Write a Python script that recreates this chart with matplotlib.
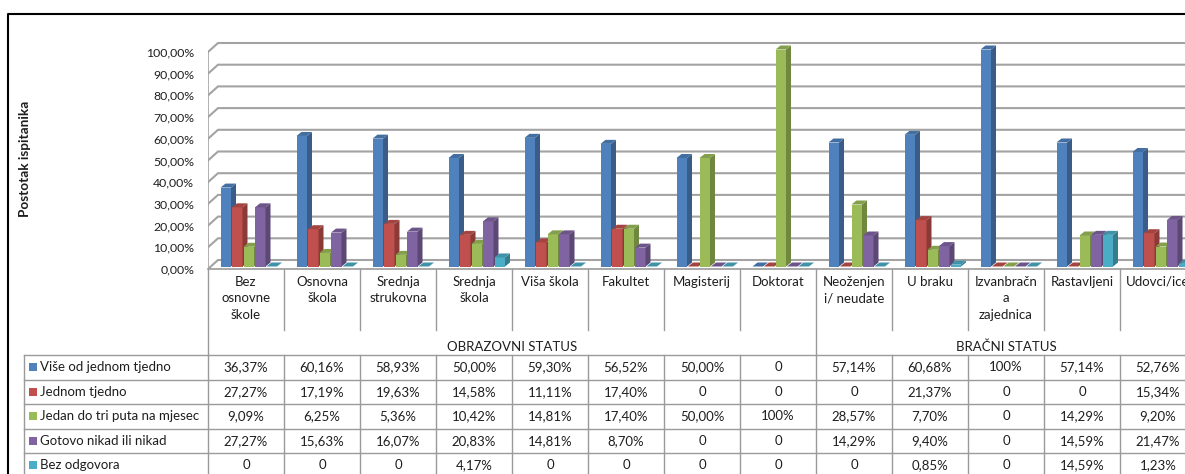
import numpy as np
import matplotlib
matplotlib.use("Agg")
import matplotlib.pyplot as plt
from matplotlib.patches import Polygon
from matplotlib.colors import to_rgb

plt.rcParams['font.family'] = ['Lato', 'DejaVu Sans']

# --- data ---
kategorije = ["Bez\nosnovne\nškole", "Osnovna\nškola", "Srednja\nstrukovna", "Srednja\nškola",
              "Viša škola", "Fakultet", "Magisterij", "Doktorat", "Neoženjen\ni/ neudate",
              "U braku", "Izvanbračn\na\nzajednica", "Rastavljeni", "Udovci/ice"]
grupe = ["OBRAZOVNI STATUS", "BRAČNI STATUS"]
grupa_broj = [8, 5]
serije = ["Više od jednom tjedno", "Jednom tjedno", "Jedan do tri puta na mjesec",
          "Gotovo nikad ili nikad", "Bez odgovora"]
vise_od_jednom = [36.37, 60.16, 58.93, 50.00, 59.30, 56.52, 50.00, 0, 57.14, 60.68, 100, 57.14, 52.76]
jednom_tjedno = [27.27, 17.19, 19.63, 14.58, 11.11, 17.40, 0, 0, 0, 21.37, 0, 0, 15.34]
jedan_do_tri = [9.09, 6.25, 5.36, 10.42, 14.81, 17.40, 50.00, 100, 28.57, 7.70, 0, 14.29, 9.20]
gotovo_nikad = [27.27, 15.63, 16.07, 20.83, 14.81, 8.70, 0, 0, 14.29, 9.40, 0, 14.59, 21.47]
bez_odgovora = [0, 0, 0, 4.17, 0, 0, 0, 0, 0, 0.85, 0, 14.59, 1.23]
podaci = [vise_od_jednom, jednom_tjedno, jedan_do_tri, gotovo_nikad, bez_odgovora]
boje = ['#4F81BD', '#C0504D', '#9BBB59', '#8064A2', '#4BACC6']


def fmt(v):
    if v == 0:
        return "0"
    if v == 100:
        return "100%"
    return ("%.2f%%" % v).replace('.', ',')


def shade(c, f):
    return tuple(np.array(to_rgb(c)) * f)


W, H = 1185, 474
fig = plt.figure(figsize=(W / 100, H / 100), dpi=100)
tekst = '#1e1e1e'

# overlay in pixel coords for frame + table
ov = fig.add_axes([0, 0, 1, 1])
ov.set_xlim(0, W); ov.set_ylim(H, 0); ov.axis('off')

x0, y0, ytop = 208, 269, 30   # plot origin (px)
cw = 76                        # px per category
py = 2.17                      # px per percent
siva = '#9a9a9a'

ax = fig.add_axes([x0 / W, (H - y0) / H, (W - x0) / W, (y0 - ytop) / H])
xmax = (W - x0) / cw
ax.set_xlim(0, xmax); ax.set_ylim(0, (y0 - ytop) / py)
ax.patch.set_visible(False)
for s in ax.spines.values():
    s.set_visible(False)

# 3d offsets in data units
wall_dx, wall_dy = 10 / cw, 9 / py
bar_off, bar_step, bar_w = 12.5 / cw, 11.5 / cw, 10.5 / cw
side_dx, side_dy = 5 / cw, 4 / py
base = 2.5 / py

# walls / grid
for v in range(0, 101, 10):
    ax.plot([0, wall_dx, xmax], [v, v + wall_dy, v + wall_dy], color='#a3a3a3', lw=1.5, zorder=1,
            solid_joinstyle='miter')
ax.plot([0, 0], [0, 100], color='#a3a3a3', lw=1.2, zorder=1)
ax.plot([0, xmax], [0, 0], color=siva, lw=1.2, zorder=1, clip_on=False)

# bars
xs = np.arange(len(kategorije))
for k, (vals, c) in enumerate(zip(podaci, boje)):
    lefts = xs + bar_off + k * bar_step
    ax.bar(lefts, vals, width=bar_w, bottom=base, align='edge', color=c, lw=0, zorder=3 + k)
    for l, v in zip(lefts, vals):
        top = base + v
        ax.add_patch(Polygon([(l + bar_w, base), (l + bar_w + side_dx, base + side_dy),
                              (l + bar_w + side_dx, top + side_dy), (l + bar_w, top)],
                             closed=True, fc=shade(c, 0.72), lw=0, zorder=3 + k))
        ax.add_patch(Polygon([(l, top), (l + side_dx, top + side_dy),
                              (l + bar_w + side_dx, top + side_dy), (l + bar_w, top)],
                             closed=True, fc=shade(c, 0.85), lw=0, zorder=3 + k))

ax.set_xticks([])
ax.set_yticks(np.arange(0, 101, 10))
ax.set_yticklabels(["%d,00%%" % v for v in range(0, 101, 10)])
ax.tick_params(axis='y', length=0, pad=10, labelsize=8.8, labelcolor=tekst)

# frame
ov.plot([8, 8, W], [H, 14, 14], color='black', lw=1.5)
ov.text(25, 159, "Postotak ispitanika", rotation=90, fontweight='bold', ha='center', va='center',
        fontsize=9.8, color=tekst)

# category labels
for i, kat in enumerate(kategorije):
    ov.text(x0 + cw * (i + 0.5), 276, kat, ha='center', va='top', fontsize=9.5, linespacing=1.45,
            color=tekst)
granice = np.cumsum([0] + grupa_broj)
for j in range(len(kategorije) + 1):
    kraj = 355 if j in granice else 330
    ov.plot([x0 + cw * j] * 2, [y0, kraj], color=siva, lw=1)
for g, n, st in zip(grupe, grupa_broj, granice[:-1]):
    ov.text(x0 + cw * (st + n / 2), 347, g, ha='center', va='center', fontsize=9.5, color=tekst)

# data table
rh = 24.5
rt = 355
for r in range(len(serije) + 1):
    ov.plot([24, W], [rt + r * rh] * 2, color=siva, lw=1)
for xv in [24] + [x0 + cw * j for j in range(len(kategorije) + 1)]:
    ov.plot([xv, xv], [rt, H], color=siva, lw=1)
for r, (ime, vals, c) in enumerate(zip(serije, podaci, boje)):
    yc = rt + (r + 0.5) * rh
    ov.plot(32.5, yc, marker='s', ms=5.2, color=c, mew=0)
    ov.text(40, yc, ime, ha='left', va='center', fontsize=9.5, color=tekst)
    for i, v in enumerate(vals):
        ov.text(x0 + cw * (i + 0.5), yc, fmt(v), ha='center', va='center', fontsize=9.5, color=tekst)

fig.savefig("out.png", dpi=100)
